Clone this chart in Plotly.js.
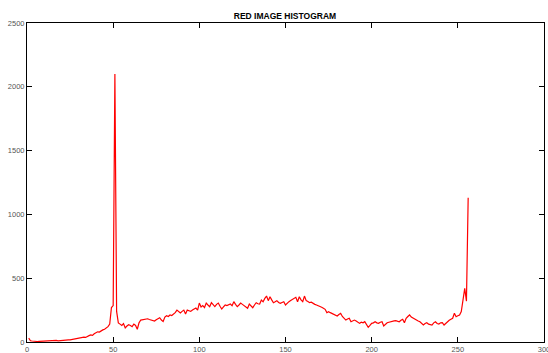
<!DOCTYPE html>
<html>
<head>
<meta charset="utf-8">
<script src="https://cdn.plot.ly/plotly-3.0.1.min.js"></script>
<style>html,body{margin:0;padding:0;background:#fff;}#chart{width:548px;height:353px;}</style>
</head>
<body>
<div id="chart"></div>
<script>
const binStart = 1;
const counts = [
30,10,8,5,6,4,5,6,5,7,
6,8,7,9,8,10,12,9,11,13,
12,15,14,17,16,19,22,20,25,28,
30,34,38,36,45,50,55,52,65,75,
80,78,90,95,100,112,120,140,270,285,
2100,240,150,140,130,145,110,125,135,130,
120,140,130,100,150,172,175,180,178,182,
176,172,168,164,175,185,190,172,160,195,
206,200,212,208,220,230,250,238,227,240,
250,220,250,245,240,250,258,266,250,305,
274,285,270,305,290,277,308,290,277,295,
305,280,258,275,290,285,295,298,285,316,
295,277,290,305,295,285,277,264,298,285,
269,290,308,300,298,329,315,342,360,324,
355,330,308,315,324,310,303,310,316,290,
305,316,325,335,340,350,316,355,330,316,
360,324,318,308,312,300,295,290,282,278,
272,265,256,230,238,230,225,220,212,204,
215,225,200,185,172,180,186,159,168,172,
165,158,146,155,150,159,140,115,130,146,
150,159,150,146,155,159,125,140,151,155,
160,159,165,167,160,159,170,178,151,186,
200,212,195,186,180,172,165,159,145,133,
145,151,140,135,133,150,159,145,141,150,
151,133,148,159,170,178,186,225,198,205,
212,238,330,420,320,1130
];
const xTicks = [0,50,100,150,200,250,300];
const yTicks = [0,500,1000,1500,2000,2500];
const titleText = 'RED IMAGE HISTOGRAM';

const bins = counts.map((_, i) => binStart + i);

const axisCommon = {
  showgrid: false, zeroline: false, showline: true, linecolor: '#000', linewidth: 1,
  mirror: 'allticks', ticks: 'inside', ticklen: 5, tickwidth: 1, tickcolor: '#000',
  tickfont: {family: 'Liberation Sans, Arial, sans-serif', size: 7.5, color: '#555'},
  tickmode: 'array', ticklabeloverflow: 'allow'
};

Plotly.newPlot('chart', [{
  x: bins, y: counts, type: 'scatter', mode: 'lines',
  line: {color: '#ff0000', width: 1.2}, hoverinfo: 'skip'
}], {
  width: 548, height: 353,
  margin: {l: 27, r: 4, t: 23, b: 11, pad: 0},
  paper_bgcolor: '#fff', plot_bgcolor: '#fff',
  showlegend: false,
  title: {text: '<b>' + titleText + '</b>', font: {family: 'Liberation Sans, Arial, sans-serif', size: 8.5, color: '#000'},
          x: 0.52, xanchor: 'center', y: 1 - 16/353, yanchor: 'middle'},
  xaxis: Object.assign({}, axisCommon, {range: [0, 300], tickvals: xTicks, ticktext: xTicks.map(String)}),
  yaxis: Object.assign({}, axisCommon, {range: [0, 2500], tickvals: yTicks, ticktext: yTicks.map(String)})
}, {staticPlot: true, displayModeBar: false});
</script>
</body>
</html>
